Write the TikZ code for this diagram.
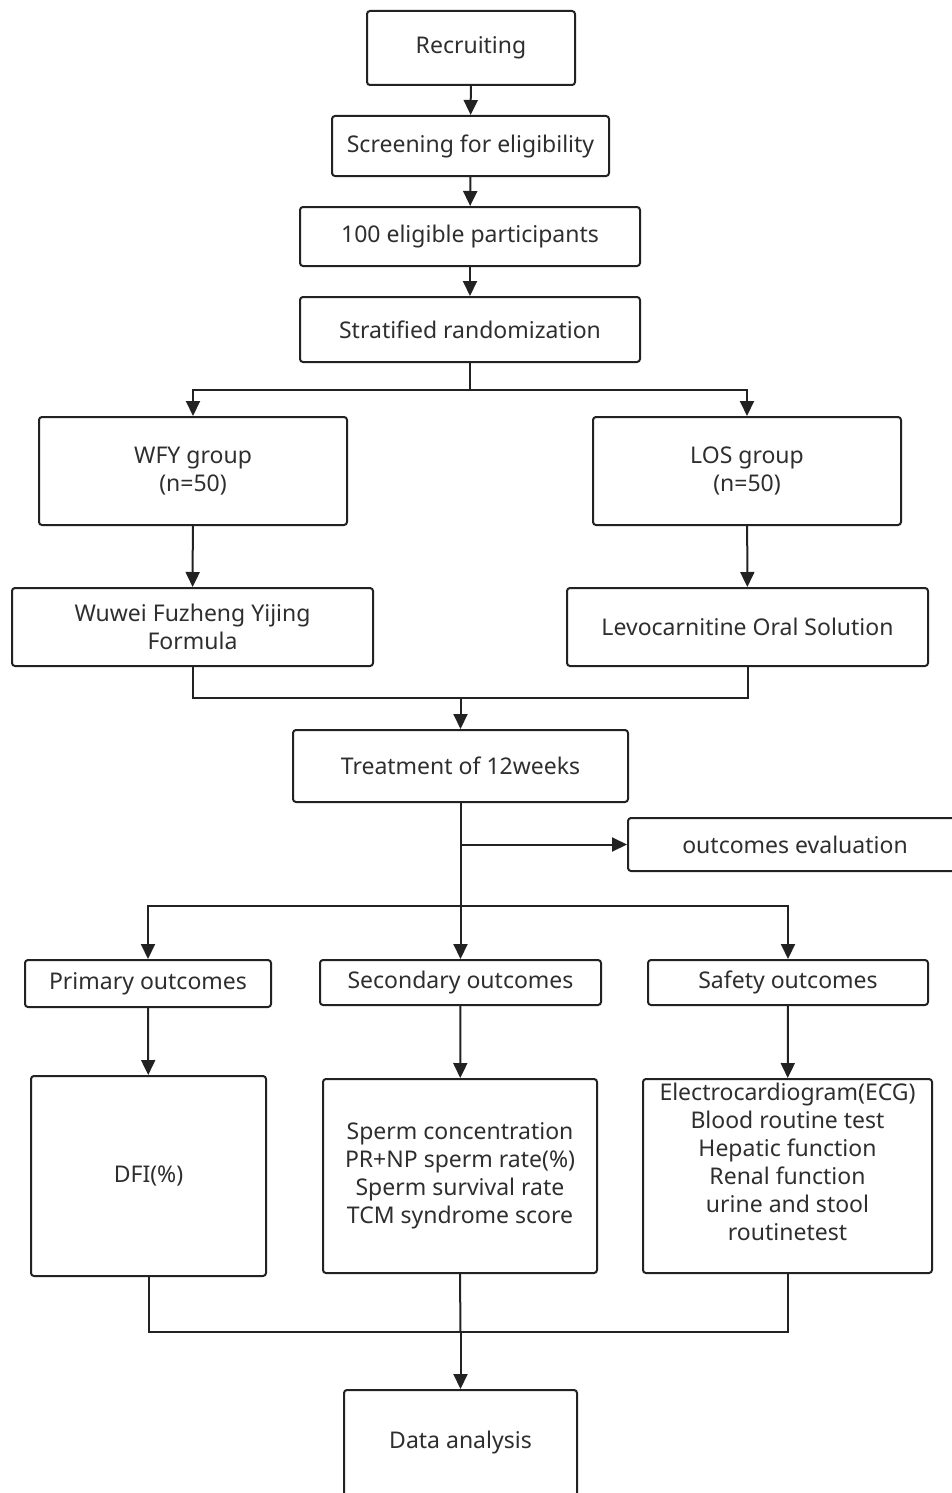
\documentclass[tikz,border=0pt]{standalone}
\usepackage{fontspec}
\setmainfont{Noto Sans}
\usetikzlibrary{arrows.meta}
\definecolor{ink}{HTML}{222222}
\definecolor{txt}{HTML}{2E2E2E}
\tikzset{
  box/.style={draw=ink, line width=1pt, rounded corners=1.5pt, inner sep=0pt, align=center, text=txt,
    font=\fontsize{11.5}{14}\selectfont},
  conn/.style={draw=ink, line width=1pt},
  arr/.style={conn, -{Triangle[length=7.5pt,width=7pt]}},
}
\begin{document}
\begin{tikzpicture}[x=0.5pt,y=-0.5pt]
\clip (0,0) rectangle (952,1493);
\useasboundingbox (0,0) rectangle (952,1493);
\node[box, minimum width=104pt, minimum height=37pt] (rec) at (471,48) {Recruiting};
\node[box, minimum width=138.5pt, minimum height=30pt] (scr) at (470.5,146) {Screening for eligibility};
\node[box, minimum width=170pt, minimum height=29.5pt] (elig) at (470,236.5) {100 eligible participants};
\node[box, minimum width=170pt, minimum height=32.5pt] (strat) at (470,329.5) {Stratified randomization};
\node[box, minimum width=154pt, minimum height=54pt] (wfy) at (193,471) {WFY group\\(n=50)};
\node[box, minimum width=154pt, minimum height=54pt] (los) at (747,471) {LOS group\\(n=50)};
\node[box, minimum width=180.5pt, minimum height=39pt] (wuwei) at (192.5,627) {Wuwei Fuzheng Yijing\\Formula};
\node[box, minimum width=180.5pt, minimum height=39pt] (levo) at (747.5,627) {Levocarnitine Oral Solution};
\node[box, minimum width=167.5pt, minimum height=36pt] (treat) at (460.5,766) {Treatment of 12weeks};
\node[box, minimum width=167pt, minimum height=26.5pt] (eval) at (795,844.5) {outcomes evaluation};
\node[box, minimum width=123pt, minimum height=23.5pt] (prim) at (148,983.5) {Primary outcomes};
\node[box, minimum width=140.5pt, minimum height=22.5pt] (sec) at (460.5,982.5) {Secondary outcomes};
\node[box, minimum width=140pt, minimum height=22.5pt] (safe) at (788,982.5) {Safety outcomes};
\node[box, minimum width=117.5pt, minimum height=100pt] (dfi) at (148.5,1176) {DFI(\%)};
\node[box, minimum width=137pt, minimum height=97pt] (secd) at (460,1176) {Sperm concentration\\PR+NP sperm rate(\%)\\Sperm survival rate\\TCM syndrome score};
\node[box, minimum width=144.5pt, minimum height=97pt] (safed) at (787.5,1176) {Electrocardiogram(ECG)\\Blood routine test\\Hepatic function\\Renal function\\urine and stool\\routinetest\\\mbox{}};
\node[box, minimum width=116.5pt, minimum height=53pt] (data) at (460.5,1443) {Data analysis};
% connectors
\draw[arr] (rec) -- (scr);
\draw[arr] (scr) -- (elig);
\draw[arr] (elig) -- (strat);
\coordinate (split) at (470,390);
\draw[conn] (strat.south) -- (split);
\draw[arr] (split) -| (wfy.north);
\draw[arr] (split) -| (los.north);
\draw[arr] (wfy) -- (wuwei);
\draw[arr] (los) -- (levo);
\coordinate (merge) at (460.5,698);
\draw[conn] (wuwei.south) |- (merge);
\draw[conn] (levo.south) |- (merge);
\draw[arr] (merge) -- (treat.north);
\coordinate (branch) at (460.5,906);
\coordinate (evj) at (460.5,844.5);
\draw[conn] (treat.south) -- (branch);
\draw[arr] (evj) -- (eval.west);
\draw[arr] (branch) -| (prim.north);
\draw[arr] (branch) -- (sec.north);
\draw[arr] (branch) -| (safe.north);
\draw[arr] (prim) -- (dfi);
\draw[arr] (sec) -- (secd);
\draw[arr] (safe) -- (safed);
\coordinate (join) at (460.5,1332);
\draw[conn] (dfi.south) |- (join);
\draw[conn] (safed.south) |- (join);
\draw[conn] (secd.south) -- (join);
\draw[arr] (join) -- (data.north);
\end{tikzpicture}
\end{document}
